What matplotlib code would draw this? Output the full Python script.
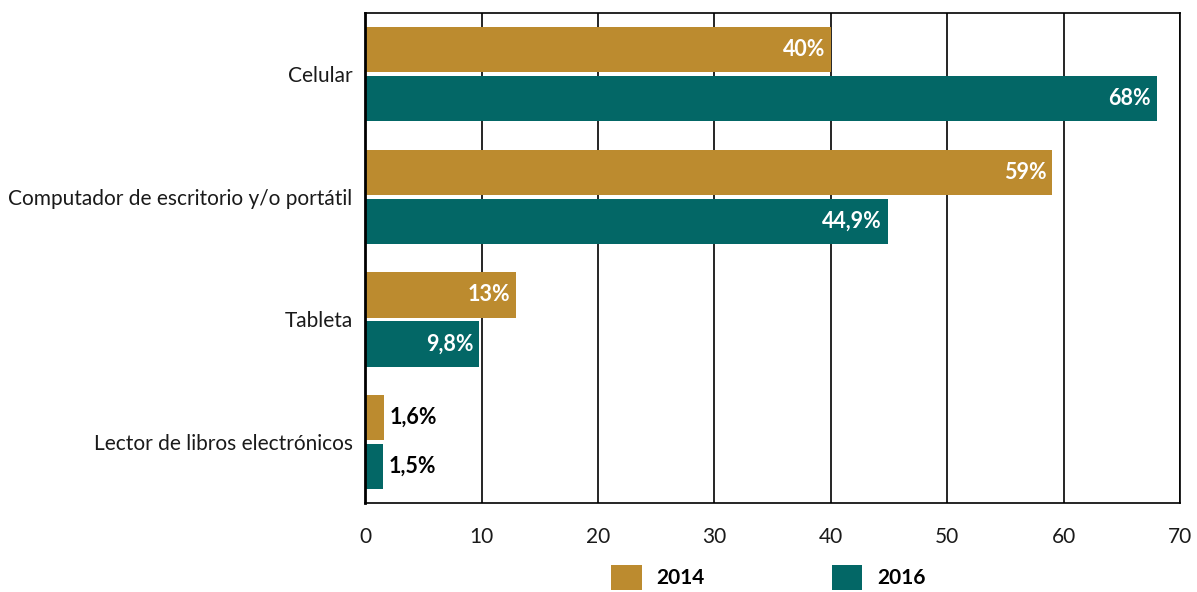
import matplotlib
matplotlib.use("Agg")
import matplotlib.pyplot as plt
import numpy as np
from matplotlib.patches import Patch

categories = ["Celular", "Computador de escritorio y/o portátil", "Tableta",
              "Lector de libros electrónicos"]
values_2014 = [40, 59, 13, 1.6]
values_2016 = [68, 44.9, 9.8, 1.5]
labels_2014 = ["40%", "59%", "13%", "1,6%"]
labels_2016 = ["68%", "44,9%", "9,8%", "1,5%"]
series_names = ["2014", "2016"]

GOLD = "#BC8B2F"
TEAL = "#036766"

plt.rcParams["font.family"] = ["Lato", "DejaVu Sans"]

fig = plt.figure(figsize=(11.97, 5.92), dpi=100)
ax = fig.add_axes([0.305, 0.150, 0.681, 0.828])

y = np.arange(len(categories))
h = 0.37
off = 0.2

for vals, labs, color, dy in [(values_2014, labels_2014, GOLD, -off),
                              (values_2016, labels_2016, TEAL, off)]:
  ax.barh(y + dy, vals, h, color=color, zorder=2)
  for i, (v, lab) in enumerate(zip(vals, labs)):
    if v >= 5:
      ax.text(v - 0.5, i + dy, lab, ha="right", va="center", fontsize=15.5,
              fontweight="bold", color="white", zorder=3)
    else:
      ax.text(v + 0.5, i + dy, lab, ha="left", va="center", fontsize=15.5,
              fontweight="bold", color="black", zorder=3)

ax.set_xlim(0, 70)
ax.set_ylim(3.5, -0.5)
ax.set_xticks(range(0, 71, 10))
ax.set_yticks(y)
ax.set_yticklabels(categories)
ax.tick_params(axis="both", length=0, labelsize=15, colors="#1a1a1a")
ax.tick_params(axis="x", pad=17)
ax.tick_params(axis="y", pad=9)
ax.grid(axis="x", color="black", linewidth=1.2, zorder=0)
ax.set_axisbelow(True)
for s in ax.spines.values():
  s.set_color("black")
  s.set_linewidth(1.2)
ax.spines["left"].set_linewidth(2)

handles = [Patch(facecolor=GOLD, edgecolor="none", label=series_names[0]),
           Patch(facecolor=TEAL, edgecolor="none", label=series_names[1])]
leg = fig.legend(handles=handles, loc="center", bbox_to_anchor=(0.642, 0.025),
                 ncol=2, frameon=False, prop={"size": 15, "weight": "bold"},
                 handlelength=1.45, handleheight=1.45, handletextpad=0.72,
                 columnspacing=6.1)

fig.savefig("out.png", dpi=100, facecolor="white")
